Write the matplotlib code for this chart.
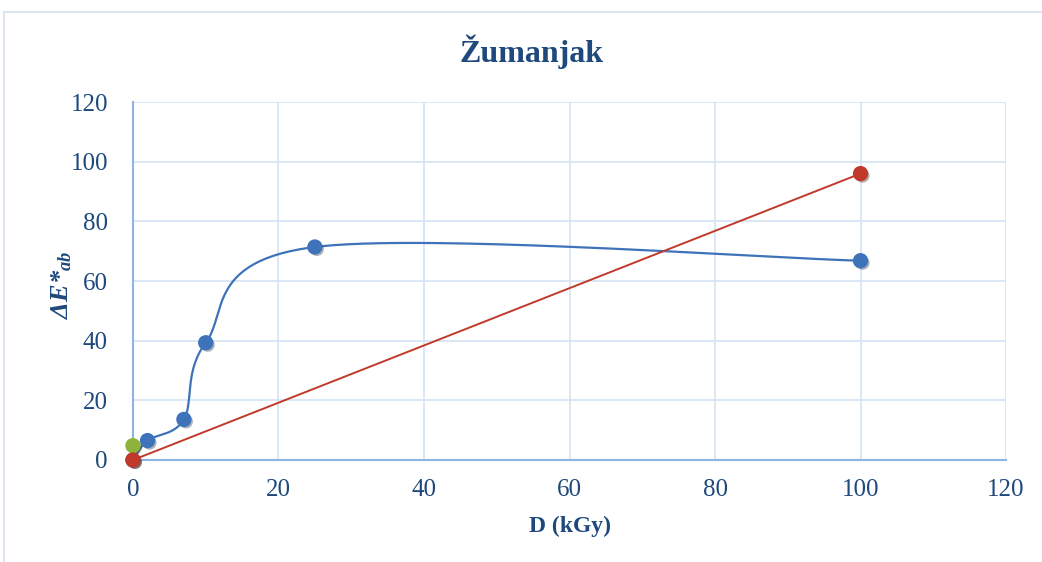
import numpy as np
import matplotlib.pyplot as plt
import matplotlib.patheffects as pe
from matplotlib.patches import Rectangle

# data
blue_x = [0, 2, 7, 10, 25, 100]
blue_y = [0, 6.5, 13.6, 39.3, 71.4, 66.8]
red_x = [0, 100]
red_y = [0, 96.0]
green_x = [0]
green_y = [4.8]

c_blue = '#3E73BA'
c_red = '#C0392B'
c_green = '#8DB33A'
c_text = '#1F497D'
c_grid = '#D6E3F4'
c_axis = '#8EB4E3'

plt.rcParams['font.family'] = ['Liberation Serif', 'DejaVu Serif']
plt.rcParams['mathtext.fontset'] = 'custom'
plt.rcParams['mathtext.it'] = 'Liberation Serif:bold:italic'
plt.rcParams['mathtext.rm'] = 'Liberation Serif:bold:italic'


def smooth(xs, ys, n=60):
    # Excel-like smoothed line (Catmull-Rom bezier)
    p = np.column_stack([xs, ys]).astype(float)
    out = []
    for i in range(len(p) - 1):
        p0 = p[i - 1] if i > 0 else p[i]
        p3 = p[i + 2] if i + 2 < len(p) else p[i + 1]
        p1, p2 = p[i], p[i + 1]
        c1 = p1 + (p2 - p0) / 6
        c2 = p2 - (p3 - p1) / 6
        t = np.linspace(0, 1, n)[:, None]
        seg = ((1 - t) ** 3) * p1 + 3 * ((1 - t) ** 2) * t * c1 + 3 * (1 - t) * t ** 2 * c2 + t ** 3 * p2
        out.append(seg)
    s = np.vstack(out)
    return s[:, 0], s[:, 1]


fig = plt.figure(figsize=(10.42, 5.62), dpi=100)
ax = fig.add_axes([0.1276, 0.1815, 0.8379, 0.637])

# chart frame
fig.patches.append(Rectangle((4 / 1042, -0.01), 1.1, 1 - 12 / 562 + 0.01, transform=fig.transFigure,
                             fill=False, edgecolor='#D5DFEC', lw=1.2))

shadow = [pe.SimplePatchShadow(offset=(1.5, -1.5), alpha=0.35), pe.Normal()]

sx, sy = smooth(blue_x, blue_y)
ax.plot(sx, sy, color=c_blue, lw=1.6, zorder=3, clip_on=False)
ax.plot(blue_x, blue_y, 'o', color=c_blue, ms=10, zorder=4, path_effects=shadow, clip_on=False)
ax.plot(green_x, green_y, 'o', color=c_green, ms=10, zorder=5, path_effects=shadow, clip_on=False)
ax.plot(red_x, red_y, '-', color=c_red, lw=1.4, zorder=5, clip_on=False)
ax.plot(red_x, red_y, 'o', color=c_red, ms=10, zorder=6, path_effects=shadow, clip_on=False)

ax.set_xlim(0, 120)
ax.set_ylim(0, 120)
ax.set_xticks(range(0, 121, 20))
ax.set_yticks(range(0, 121, 20))
ax.grid(True, color=c_grid, lw=1.2)
ax.set_axisbelow(True)
for s in ['top', 'right']:
    ax.spines[s].set_visible(False)
for s in ['left', 'bottom']:
    ax.spines[s].set_color(c_axis)
    ax.spines[s].set_linewidth(1.5)
ax.tick_params(length=0, labelsize=18, labelcolor=c_text)
ax.tick_params(axis='x', pad=14)
ax.tick_params(axis='y', pad=18)

fig.text(532 / 1042, 1 - 52 / 562, 'Žumanjak', fontsize=23, fontweight='bold', color=c_text,
         ha='center', va='center')
ax.set_xlabel('D (kGy)', fontsize=17, fontweight='bold', color=c_text, labelpad=10)
ax.set_ylabel(r'$\Delta E$*$_{ab}$', fontsize=19, color=c_text, fontweight='bold', fontstyle='italic')
ax.yaxis.set_label_coords(-0.067, 0.49)

fig.savefig('out.png', dpi=100)
